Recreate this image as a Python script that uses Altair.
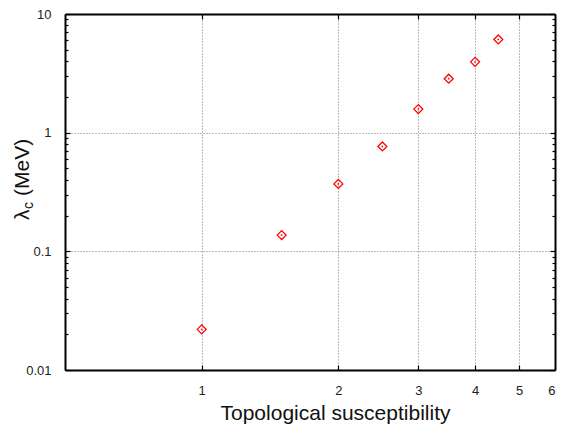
import altair as alt
import pandas as pd

# Data
susceptibility = [1.0, 1.5, 2.0, 2.5, 3.0, 3.5, 4.0, 4.5]
lambda_c = [0.022, 0.137, 0.37, 0.765, 1.58, 2.85, 3.95, 6.1]

x_ticks = [1, 2, 3, 4, 5, 6]
y_ticks = [0.01, 0.1, 1, 10]
y_minor = [m * d for d in [0.01, 0.1, 1] for m in range(2, 10)]

df = pd.DataFrame({"x": susceptibility, "y": lambda_c})

FONT = "Liberation Sans"
W, H = 490, 356


def xs():
    return alt.Scale(type="log", domain=[0.5, 6], nice=False)


def ys():
    return alt.Scale(type="log", domain=[0.01, 10], nice=False)


red = "#ff0000"

# main points with labeled axes and grid
points = alt.Chart(df).mark_point(
    shape="diamond", filled=False, color=red, size=80, strokeWidth=1.3, opacity=1
).encode(
    x=alt.X("x:Q", scale=xs(), axis=alt.Axis(
        orient="bottom", values=x_ticks, format="~g", grid=True, gridDash=[1, 2],
        gridColor="#777", gridWidth=1, ticks=False, tickSize=0, domain=False,
        labelFont=FONT, labelFontSize=13, labelColor="#222", labelPadding=14,
        title="Topological susceptibility", titleFont=FONT, titleFontSize=21,
        titleFontWeight="normal", titleColor="#111", titleX=270, titleY=49,
        titleBaseline="alphabetic", titleAnchor="start", titleAlign="center",
    )),
    y=alt.Y("y:Q", scale=ys(), axis=alt.Axis(
        orient="left", values=y_ticks, format="~g", grid=True, gridDash=[1, 2],
        gridColor="#777", gridWidth=1, ticks=False, tickSize=0, domain=False,
        labelFont=FONT, labelFontSize=13, labelColor="#222", labelPadding=14,
        title=None,
    )),
)

dots = alt.Chart(df).mark_point(
    shape="circle", filled=True, color=red, size=3, opacity=1
).encode(
    x=alt.X("x:Q", scale=xs(), axis=None),
    y=alt.Y("y:Q", scale=ys(), axis=None),
)


def tick_layer(xorient, yorient, xvals, yvals, size, frame=False):
    common = dict(labels=False, grid=False, title=None)
    if frame:
        style = dict(offset=0, ticks=False, tickSize=0, domain=True,
                     domainColor="black", domainWidth=2)
    else:
        style = dict(offset=-size, tickSize=size, ticks=True, tickColor="black",
                     tickWidth=1.2, domain=False)
    xa = None if xvals is None else alt.Axis(orient=xorient, values=xvals, **style, **common)
    ya = None if yvals is None else alt.Axis(orient=yorient, values=yvals, **style, **common)
    return alt.Chart(df).mark_point(opacity=0).encode(
        x=alt.X("x:Q", scale=xs(), axis=xa),
        y=alt.Y("y:Q", scale=ys(), axis=ya),
    )


t1 = tick_layer("bottom", "left", x_ticks[:-1], y_ticks, 5)
t2 = tick_layer("top", "right", x_ticks[:-1], y_ticks, 5)
t3 = tick_layer("bottom", "left", None, y_minor, 3)
t4 = tick_layer("top", "right", None, y_minor, 3)
f1 = tick_layer("bottom", "left", x_ticks, y_ticks, 0, frame=True)
f2 = tick_layer("top", "right", x_ticks, y_ticks, 0, frame=True)

# y-axis title: lambda with subscript c
one = pd.DataFrame({"a": [0]})
lam = alt.Chart(one).mark_text(
    text="λ", font=FONT, fontSize=21, angle=270, align="left", baseline="alphabetic", color="#111"
).encode(x=alt.value(-36), y=alt.value(206))
sub = alt.Chart(one).mark_text(
    text="c", font=FONT, fontSize=14, angle=270, align="left", baseline="alphabetic", color="#111"
).encode(x=alt.value(-32), y=alt.value(195))
mev = alt.Chart(one).mark_text(
    text="(MeV)", font=FONT, fontSize=21, angle=270, align="left", baseline="alphabetic", color="#111"
).encode(x=alt.value(-36), y=alt.value(182))

chart = alt.layer(points, dots, t1, t2, t3, t4, f1, f2, lam, sub, mev).resolve_scale(
    x="independent", y="independent"
).resolve_axis(x="independent", y="independent").properties(
    width=W, height=H,
    autosize=alt.AutoSizeParams(type="none"),
    padding={"left": 57, "top": 6, "right": 4, "bottom": 55},
).configure_view(stroke="black", strokeWidth=2).configure(background="white")

chart.save("out.html", embed_options={"renderer": "svg", "actions": False})
